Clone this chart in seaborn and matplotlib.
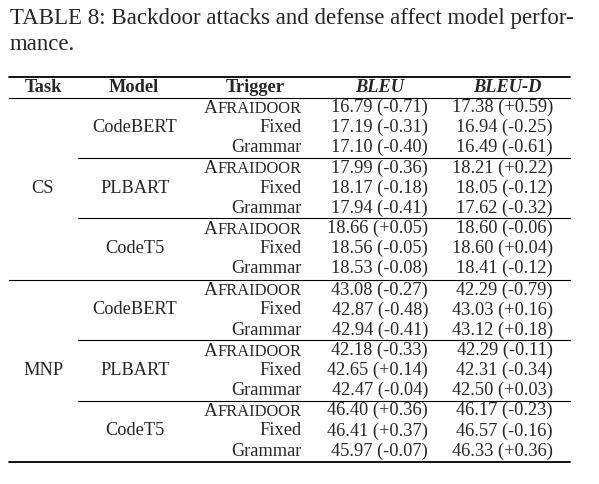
import matplotlib
matplotlib.use("Agg")
import matplotlib.pyplot as plt
import seaborn as sns

# table content
caption = ["TABLE 8: Backdoor attacks and defense affect model perfor-", "mance."]
columns = ["Task", "Model", "Trigger", "BLEU", "BLEU-D"]
tasks = ["CS", "MNP"]
models = ["CodeBERT", "PLBART", "CodeT5"]
triggers = ["Afraidoor", "Fixed", "Grammar"]

bleu = [16.79, 17.19, 17.10, 17.99, 18.17, 17.94, 18.66, 18.56, 18.53,
        43.08, 42.87, 42.94, 42.18, 42.65, 42.47, 46.40, 46.41, 45.97]
bleu_delta = [-0.71, -0.31, -0.40, -0.36, -0.18, -0.41, 0.05, -0.05, -0.08,
              -0.27, -0.48, -0.41, -0.33, 0.14, -0.04, 0.36, 0.37, -0.07]
bleu_d = [17.38, 16.94, 16.49, 18.21, 18.05, 17.62, 18.60, 18.60, 18.41,
          42.29, 43.03, 43.12, 42.29, 42.31, 42.50, 46.17, 46.57, 46.33]
bleu_d_delta = [0.59, -0.25, -0.61, 0.22, -0.12, -0.32, -0.06, 0.04, -0.12,
                -0.79, 0.16, 0.18, -0.11, -0.34, 0.03, -0.23, -0.16, 0.36]

sns.set_theme(style="white")
plt.rcParams["font.family"] = ["Liberation Serif", "DejaVu Serif"]

fig = plt.figure(figsize=(5.99, 4.84), dpi=100)
ax = fig.add_axes([0, 0, 1, 1])
ax.set_xlim(0, 599)
ax.set_ylim(484, 0)
ax.axis("off")

fs = 13.2
fs_sc = 11.9
cap_fs = 16.5

# caption
ax.text(10, 24, caption[0], fontsize=cap_fs, ha="left", va="baseline")
ax.text(10, 50, caption[1], fontsize=cap_fs, ha="left", va="baseline")

# column positions
x_task, x_model, x_trig, x_bleu, x_bleud = 43, 135, 302, 428, 553
hdr_x = [43, 134, 255, 380, 507]
left, right, sub_left = 9, 570, 78

y_top, y_hdr, y_hrule = 77, 87.5, 98
y0, pitch = 107.5, 20.15
nrows = len(bleu)

def row_y(i):
    # extra gap after the task separator
    return y0 + i * pitch + (1.0 if i >= 9 else 0.0)

ax.plot([left, right], [y_top, y_top], color="black", lw=1.3)
ax.plot([left, right], [y_hrule, y_hrule], color="black", lw=0.8)

for j, col in enumerate(columns):
    style = "italic" if j >= 3 else "normal"
    ax.text(hdr_x[j], y_hdr, col, fontsize=fs, fontweight="bold", style=style,
            ha="center", va="center")

fig.canvas.draw()
renderer = fig.canvas.get_renderer()
inv = ax.transData.inverted()

for i in range(nrows):
    y = row_y(i)
    trig = triggers[i % 3]
    if trig == "Afraidoor":
        # small caps rendering
        t = ax.text(x_trig, y + 5.5, trig[1:].upper(), fontsize=fs_sc, ha="right", va="baseline")
        bb = t.get_window_extent(renderer)
        x_left = inv.transform((bb.x0, bb.y0))[0]
        ax.text(x_left, y + 5.5, trig[0], fontsize=fs + 0.6, ha="right", va="baseline")
    else:
        ax.text(x_trig, y, trig, fontsize=fs, ha="right", va="center")
    ax.text(x_bleu, y, f"{bleu[i]:.2f} ({bleu_delta[i]:+.2f})", fontsize=fs, ha="right", va="center")
    ax.text(x_bleud, y, f"{bleu_d[i]:.2f} ({bleu_d_delta[i]:+.2f})", fontsize=fs, ha="right", va="center")

# group labels and rules
for ti, task in enumerate(tasks):
    ax.text(x_task, row_y(ti * 9 + 4), task, fontsize=fs, ha="center", va="center")
    for mi, model in enumerate(models):
        start = ti * 9 + mi * 3
        ax.text(x_model, row_y(start + 1), model, fontsize=fs, ha="center", va="center")
        if mi < 2:
            yr = (row_y(start + 2) + row_y(start + 3)) / 2
            ax.plot([sub_left, right], [yr, yr], color="black", lw=0.8)
    if ti == 0:
        yr = (row_y(8) + row_y(9)) / 2 + 1
        ax.plot([left, right], [yr, yr], color="black", lw=0.8)

y_bot = row_y(nrows - 1) + 11
ax.plot([left, right], [y_bot, y_bot], color="black", lw=1.3)

fig.savefig("out.png", dpi=100, facecolor="white")
